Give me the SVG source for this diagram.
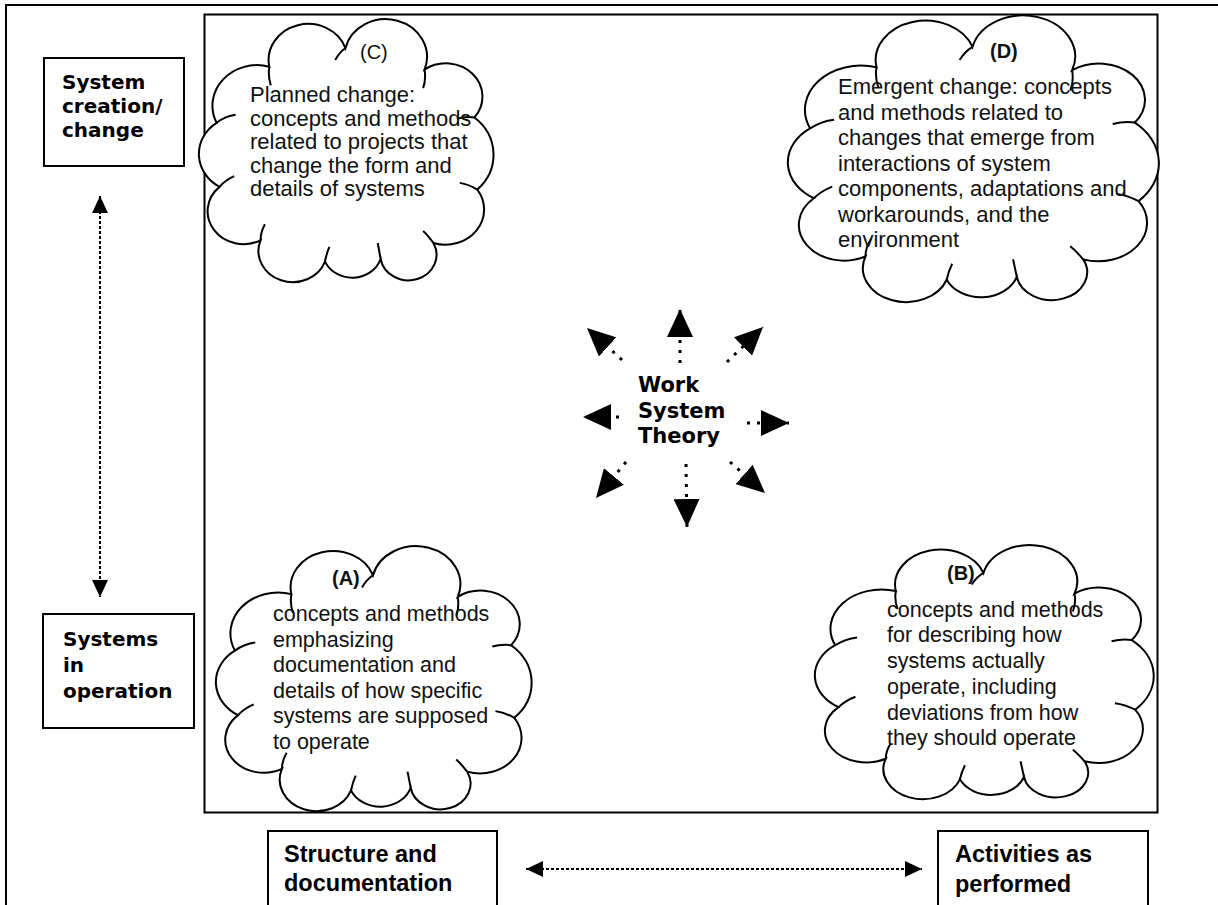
<svg xmlns="http://www.w3.org/2000/svg" xmlns:xlink="http://www.w3.org/1999/xlink" width="1218" height="905" viewBox="0 0 1218 905">
  <style>
    .frame { fill: none; stroke: #000; stroke-width: 2; }
    .box { fill: #fff; stroke: #000; stroke-width: 2; }
    .axis { font-family: "DejaVu Sans", Verdana, sans-serif; font-weight: bold; font-size: 20px; fill: #000; }
    .axis2 { font-family: "Liberation Sans", Arial, sans-serif; font-weight: bold; font-size: 23.5px; fill: #000; }
    .cloud { fill: #fff; stroke: #000; stroke-width: 2; }
    .stub { fill: none; stroke: #000; stroke-width: 2; }
    .body { font-family: "Liberation Sans", Arial, sans-serif; font-size: 22px; fill: #111; }
    .body-s { font-family: "Liberation Sans", Arial, sans-serif; font-size: 21.5px; fill: #111; }
    .tag { font-family: "Liberation Sans", Arial, sans-serif; font-weight: bold; font-size: 20px; fill: #111; }
    .tag-n { font-family: "Liberation Sans", Arial, sans-serif; font-size: 20px; fill: #111; }
    .core { font-family: "DejaVu Sans", Verdana, sans-serif; font-weight: bold; font-size: 21px; fill: #000; }
    .dotted { fill: none; stroke: #000; stroke-width: 2; stroke-dasharray: 3 2; }
    .ray { fill: none; stroke: #000; stroke-width: 3; stroke-dasharray: 3 7; }
  </style>
  <defs>
    <marker id="tip" viewBox="0 0 17 16" refX="17" refY="8" markerWidth="17" markerHeight="16" markerUnits="userSpaceOnUse" orient="auto-start-reverse">
      <path d="M0,0 L17,8 L0,16 z" fill="#000"/>
    </marker>
    <marker id="bigtip" viewBox="0 0 28 26" refX="28" refY="13" markerWidth="28" markerHeight="26" markerUnits="userSpaceOnUse" orient="auto">
      <path d="M0,0 L28,13 L0,26 z" fill="#000"/>
    </marker>
    <!-- cloud outline in a 100x100 unit box, scaled per node; stroke stays 2px -->
    <path id="cloudOutline" vector-effect="non-scaling-stroke" d="M7 64 A14.3 14.3 0 0 1 6 40 A15.2 15.2 0 0 1 24 19 A13.5 13.5 0 0 1 50 12 A14.1 14.1 0 1 1 77 20 A12.5 12.5 0 0 1 94 38 A18.2 18.2 0 0 1 95 65 A13.2 13.2 0 0 1 80 85 A9.6 9.6 0 1 1 62 91 A10.2 10.2 0 0 1 43 92 A11.7 11.7 0 0 1 21 84 A12.3 12.3 0 0 1 7 64 Z"/>
    <path id="cloudStubs" vector-effect="non-scaling-stroke" d="M6 40 Q9 37.5 12.5 37 M24 19 Q23.5 22.5 24.5 26 M50 12 Q48 13.5 46.5 16.5 M77 20 Q77.5 24 76.5 27 M94 38 Q91 37.5 88 38.5 M95 65 Q92 63 89 62.5 M80 85 Q78 82 76.5 80.5 M62 91 Q61.5 88 61 85 M43 92 Q43.5 89 44.5 86.5 M21 84 Q21 81 22.5 78 M7 64 Q9 61.5 12 60"/>
  </defs>

  <rect width="1218" height="905" fill="#fff"/>

  <!-- page frame and the central field -->
  <g id="frame">
    <path class="frame" d="M6 905 V5 H1218"/>
    <rect class="frame" x="204.5" y="14.5" width="953" height="798"/>
  </g>

  <!-- axis labels -->
  <g id="system-creation">
    <rect class="box" x="44" y="58" width="140" height="108"/>
    <text class="axis" x="62" y="89">System</text>
    <text class="axis" x="62" y="113">creation/</text>
    <text class="axis" x="62" y="137">change</text>
  </g>
  <g id="systems-in-operation">
    <rect class="box" x="43" y="614" width="151" height="114"/>
    <text class="axis" x="63" y="646">Systems</text>
    <text class="axis" x="63" y="672">in</text>
    <text class="axis" x="63" y="698">operation</text>
  </g>
  <g id="structure-documentation">
    <rect class="box" x="268" y="831" width="229" height="100"/>
    <text class="axis2" x="284" y="862">Structure and</text>
    <text class="axis2" x="284" y="891">documentation</text>
  </g>
  <g id="activities-performed">
    <rect class="box" x="938" y="831" width="210" height="100"/>
    <text class="axis2" x="955" y="862">Activities as</text>
    <text class="axis2" x="955" y="892">performed</text>
  </g>

  <!-- quadrant clouds -->
  <g id="cloud-c">
    <g transform="translate(199 16) scale(2.93 2.67)">
      <use xlink:href="#cloudOutline" class="cloud"/>
      <use xlink:href="#cloudStubs" class="stub"/>
    </g>
    <text class="tag-n" x="360" y="59">(C)</text>
    <text class="body" x="250" y="102">Planned change:</text>
    <text class="body" x="250" y="125.5">concepts and methods</text>
    <text class="body" x="250" y="149">related to projects that</text>
    <text class="body" x="250" y="172.5">change the form and</text>
    <text class="body" x="250" y="196">details of systems</text>
  </g>
  <g id="cloud-d">
    <g transform="translate(788 12) scale(3.69 2.91)">
      <use xlink:href="#cloudOutline" class="cloud"/>
      <use xlink:href="#cloudStubs" class="stub"/>
    </g>
    <text class="tag" x="990" y="58">(D)</text>
    <text class="body" x="838" y="94">Emergent change: concepts</text>
    <text class="body" x="838" y="119.5">and methods related to</text>
    <text class="body" x="838" y="145">changes that emerge from</text>
    <text class="body" x="838" y="170.5">interactions of system</text>
    <text class="body" x="838" y="196">components, adaptations and</text>
    <text class="body" x="838" y="221.5">workarounds, and the</text>
    <text class="body" x="838" y="247">environment</text>
  </g>
  <g id="cloud-a">
    <g transform="translate(216 543) scale(3.14 2.69)">
      <use xlink:href="#cloudOutline" class="cloud"/>
      <use xlink:href="#cloudStubs" class="stub"/>
    </g>
    <text class="tag" x="332" y="585">(A)</text>
    <text class="body-s" x="273" y="621">concepts and methods</text>
    <text class="body-s" x="273" y="646.5">emphasizing</text>
    <text class="body-s" x="273" y="672">documentation and</text>
    <text class="body-s" x="273" y="697.5">details of how specific</text>
    <text class="body-s" x="273" y="723">systems are supposed</text>
    <text class="body-s" x="273" y="748.5">to operate</text>
  </g>
  <g id="cloud-b">
    <g transform="translate(815 542) scale(3.37 2.58)">
      <use xlink:href="#cloudOutline" class="cloud"/>
      <use xlink:href="#cloudStubs" class="stub"/>
    </g>
    <text class="tag" x="947" y="580">(B)</text>
    <text class="body-s" x="887" y="616.5">concepts and methods</text>
    <text class="body-s" x="887" y="642">for describing how</text>
    <text class="body-s" x="887" y="668">systems actually</text>
    <text class="body-s" x="887" y="694">operate, including</text>
    <text class="body-s" x="887" y="719.5">deviations from how</text>
    <text class="body-s" x="887" y="745">they should operate</text>
  </g>

  <!-- central theory label -->
  <g id="work-system-theory">
    <text class="core" x="638" y="392">Work</text>
    <text class="core" x="638" y="418">System</text>
    <text class="core" x="638" y="443">Theory</text>
  </g>

  <!-- connectors -->
  <g id="connectors">
    <path class="dotted" d="M100 196 V597" marker-start="url(#tip)" marker-end="url(#tip)"/>
    <path class="dotted" d="M526 869 H922" marker-start="url(#tip)" marker-end="url(#tip)"/>
    <path class="ray" d="M680 363 L680 309" marker-end="url(#bigtip)"/>
    <path class="ray" d="M686 464 L687 527" marker-end="url(#bigtip)"/>
    <path class="ray" d="M619 417 L583 417" marker-end="url(#bigtip)"/>
    <path class="ray" d="M747 423 L789 423" marker-end="url(#bigtip)"/>
    <path class="ray" d="M622 360 L587 328" marker-end="url(#bigtip)"/>
    <path class="ray" d="M727 362 L763 327" marker-end="url(#bigtip)"/>
    <path class="ray" d="M626 462 L596 498" marker-end="url(#bigtip)"/>
    <path class="ray" d="M730 462 L765 493" marker-end="url(#bigtip)"/>
  </g>
</svg>
